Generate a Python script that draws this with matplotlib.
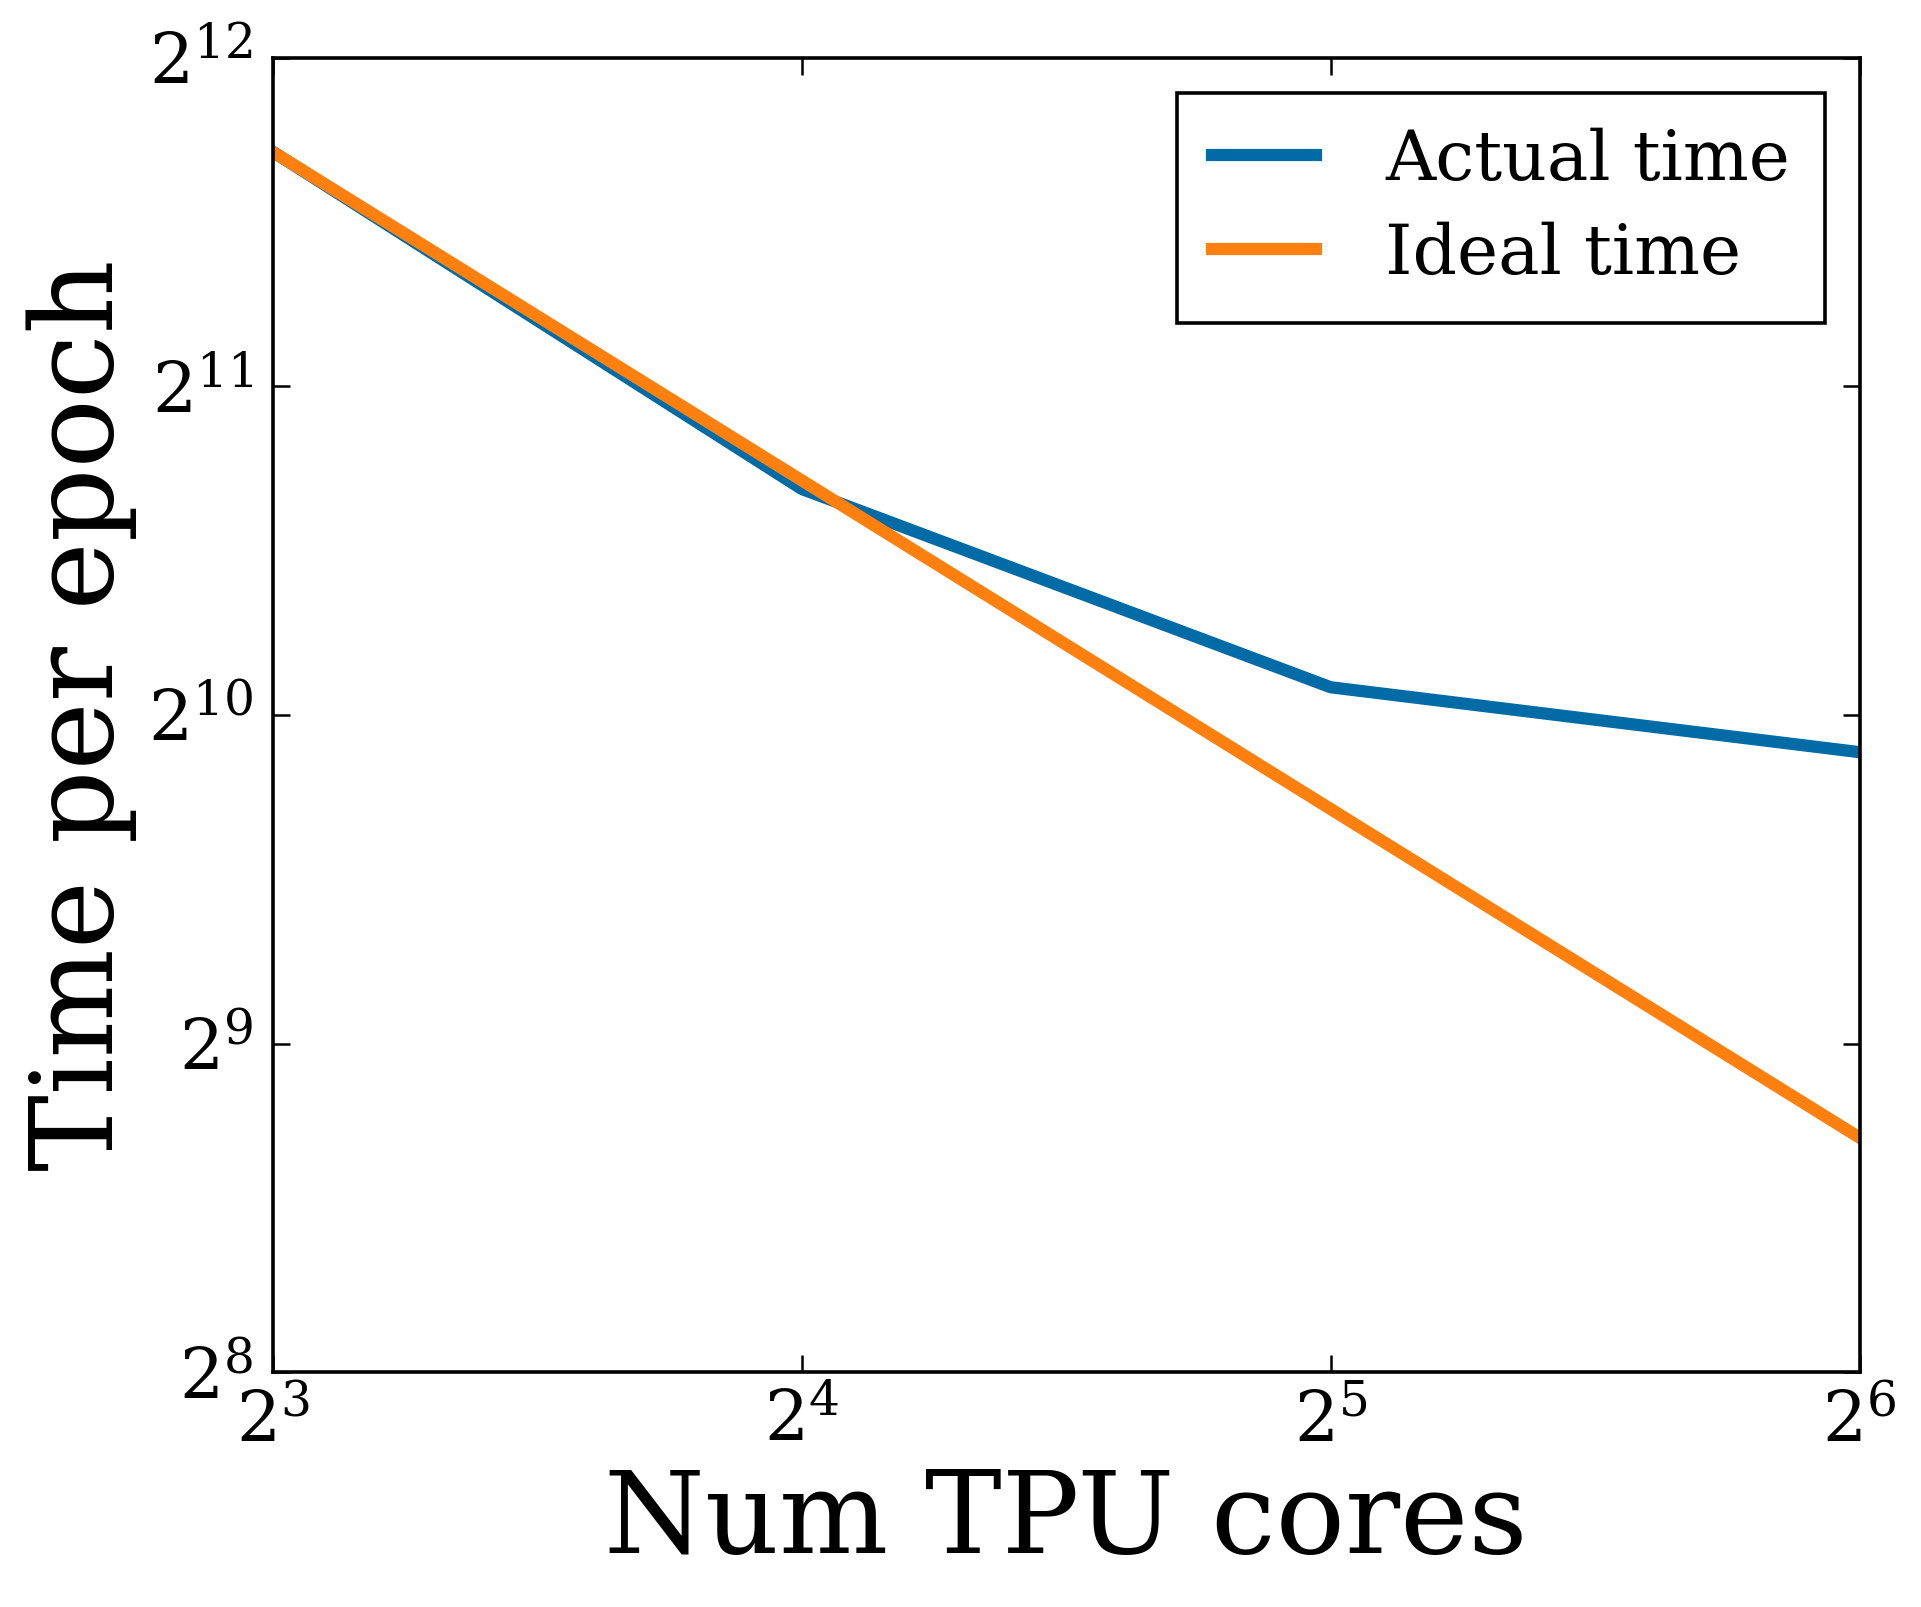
import matplotlib

matplotlib.use("Agg")
import matplotlib.pyplot as plt
from matplotlib.ticker import NullLocator, FixedLocator

# values (seconds per epoch)
cores = [8, 16, 32, 64]
actual_time = [3360, 1650, 1086, 947]
ideal_time = [3360, 1680, 840, 420]
series_labels = ["Actual time", "Ideal time"]
x_ticks = [8, 16, 32, 64]
y_ticks = [256, 512, 1024, 2048, 4096]

plt.rcParams["font.family"] = "DejaVu Serif"
plt.rcParams["mathtext.fontset"] = "dejavuserif"

fig = plt.figure(figsize=(9.605, 8.035), dpi=200)
ax = fig.add_axes([0.142, 0.146, 0.826, 0.818])

ax.plot(cores, actual_time, color="#006BA4", lw=4.4, label=series_labels[0])
ax.plot(cores, ideal_time, color="#FF800E", lw=4.4, label=series_labels[1])

ax.set_xscale("log", base=2)
ax.set_yscale("log", base=2)
ax.set_xlim(8, 64)
ax.set_ylim(256, 4096)
ax.xaxis.set_major_locator(FixedLocator(x_ticks))
ax.yaxis.set_major_locator(FixedLocator(y_ticks))
ax.xaxis.set_minor_locator(NullLocator())
ax.yaxis.set_minor_locator(NullLocator())

ax.tick_params(which="major", direction="in", top=True, right=True,
               length=6, width=0.9, labelsize=25)
ax.tick_params(axis="x", pad=6)
ax.tick_params(axis="y", pad=7)
for sp in ax.spines.values():
    sp.set_linewidth(1.3)

ax.set_xlabel("Num TPU cores", fontsize=41.5, labelpad=4)
ax.set_ylabel("Time per epoch", fontsize=41.5, labelpad=4)

leg = ax.legend(loc="upper right", fontsize=25, handlelength=1.5,
                handletextpad=1.0, borderpad=0.5, labelspacing=0.4,
                fancybox=False, framealpha=1.0, borderaxespad=0.5)
leg.get_frame().set_edgecolor("black")
leg.get_frame().set_linewidth(1.3)

fig.savefig("out.png", dpi=200)
plt.close(fig)
